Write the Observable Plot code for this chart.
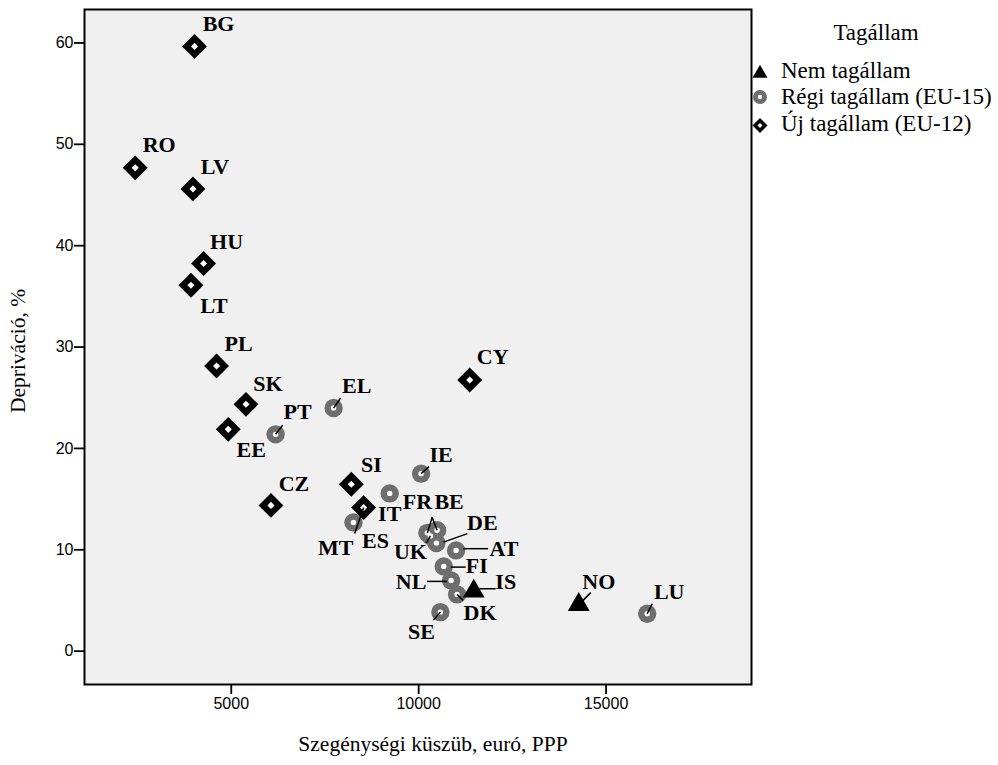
<!DOCTYPE html>
<html><head><meta charset="utf-8">
<script src="https://cdn.jsdelivr.net/npm/d3@7"></script>
<script src="https://cdn.jsdelivr.net/npm/@observablehq/plot@0.6"></script>
<style>
body{margin:0;background:#fff;}
#wrap{position:relative;width:998px;height:765px;overflow:hidden;}
#legend{position:absolute;left:0;top:0;}
</style></head><body><div id="wrap"></div>
<script>
// ---- data ----
const codes = ["BG","RO","LV","HU","LT","PL","SK","EE","CZ","SI","CY","MT",
               "EL","PT","IE","IT","ES","FR","UK","BE","DE","AT","FI","NL","DK","SE","LU",
               "IS","NO"];
const groups = ["Új tagállam (EU-12)","Új tagállam (EU-12)","Új tagállam (EU-12)","Új tagállam (EU-12)",
  "Új tagállam (EU-12)","Új tagállam (EU-12)","Új tagállam (EU-12)","Új tagállam (EU-12)",
  "Új tagállam (EU-12)","Új tagállam (EU-12)","Új tagállam (EU-12)","Új tagállam (EU-12)",
  "Régi tagállam (EU-15)","Régi tagállam (EU-15)","Régi tagállam (EU-15)","Régi tagállam (EU-15)",
  "Régi tagállam (EU-15)","Régi tagállam (EU-15)","Régi tagállam (EU-15)","Régi tagállam (EU-15)",
  "Régi tagállam (EU-15)","Régi tagállam (EU-15)","Régi tagállam (EU-15)","Régi tagállam (EU-15)",
  "Régi tagállam (EU-15)","Régi tagállam (EU-15)","Régi tagállam (EU-15)",
  "Nem tagállam","Nem tagállam"];
const threshold = [4020,2437,3977,4261,3924,4608,5392,4920,6059,8203,11362,8532,
                   7731,6183,10064,9227,8260,10232,10313,10491,10473,10998,10668,10865,11025,10579,16097,
                   11469,14271];
const deprivation = [59.66,47.68,45.6,38.24,36.1,28.13,24.35,21.88,14.38,16.46,26.75,14.16,
                     23.99,21.39,17.51,15.56,12.7,11.67,11.37,11.92,10.66,9.94,8.36,6.98,5.6,3.85,3.69,
                     5.91,4.59];
const xTicks = [5000,10000,15000];
const yTicks = [0,10,20,30,40,50,60];
const groupNames = ["Nem tagállam","Régi tagállam (EU-15)","Új tagállam (EU-12)"];
const legendTitle = "Tagállam";
const xTitle = "Szegénységi küszüb, euró, PPP";
const yTitle = "Depriváció, %";

// ---- layout (pixel offsets of labels and leader lines) ----
const labelOffset = {BG:[24,-22],RO:[24,-23],LV:[22,-22],HU:[23,-22],LT:[23,21],PL:[22,-22],SK:[22,-20],
  EE:[23,21],CZ:[23,-21],SI:[20,-19],CY:[23,-23],MT:[-28,40],EL:[23,-22],PT:[22,-22],IE:[20,-19],
  IT:[0,21],ES:[22,19],FR:[-10,-30.5],UK:[-20,16],BE:[12,-28],DE:[46,-20],AT:[48,-1.5],FI:[33,0],
  NL:[-40,1.5],DK:[23,18.5],SE:[-19,20],LU:[22,-22],IS:[32,-9],NO:[20,-23]};
const leaderOffset = {MT:[0,0,-9,26],FR:[0,0,5,-16],BE:[0,0,-5,-13],DE:[7,-1,31,-9.5],UK:[0,0,-4,7],
  AT:[7,-1.7,32,-1.7],FI:[7,0.7,22,0.7],NL:[-24,1,-4,1],IS:[0,-2.5,22,-2.5],IE:[0,0,8,-7],
  EL:[0,0,7,-10],PT:[0,0,7,-9],SE:[0,0,-7,8],LU:[0,0,5,-10],NO:[0,0,12,-12],DK:[0,0,6,6]};

const W = 998, H = 765;
const mL = 84, mR = 247, mT = 9, mB = 81;
const xDomain = [1084, 18880], yDomain = [-3.29, 63.3];
const kx = (xDomain[1]-xDomain[0])/(W-mL-mR);
const ky = (yDomain[1]-yDomain[0])/(H-mT-mB);

const rows = codes.map((c,i)=>({code:c, group:groups[i], x:threshold[i], y:deprivation[i]}));
const old = rows.filter(d=>d.group===groupNames[1]);
const neu = rows.filter(d=>d.group===groupNames[2]);
const non = rows.filter(d=>d.group===groupNames[0]);
const leaders = rows.filter(d=>leaderOffset[d.code]).map(d=>{
  const o = leaderOffset[d.code];
  return {x1:d.x+o[0]*kx, y1:d.y-o[1]*ky, x2:d.x+o[2]*kx, y2:d.y-o[3]*ky};
});

const serif = "'Liberation Serif','Times New Roman',serif";
const sans = "'Liberation Sans',Arial,sans-serif";

const plot = Plot.plot({
  width: W, height: H,
  marginLeft: mL, marginRight: mR, marginTop: mT, marginBottom: mB,
  style: {background:"#fff", fontFamily: sans, overflow:"visible"},
  x: {domain: xDomain},
  y: {domain: yDomain},
  marks: [
    Plot.frame({fill:"#f0f0f0", stroke:null}),
    Plot.dot(old, {x:"x", y:"y", r:9.2, fill:"#6e6e6e", stroke:null}),
    Plot.dot(old, {x:"x", y:"y", r:2.7, fill:"#fff", stroke:null}),
    Plot.dot(neu, {x:"x", y:"y", symbol:"diamond2", r:11.2, fill:"#000", stroke:null}),
    Plot.dot(neu, {x:"x", y:"y", symbol:"diamond2", r:3.2, fill:"#fff", stroke:null}),
    Plot.dot(non, {x:"x", y:"y", symbol:"triangle", r:8.1, fill:"#000", stroke:null}),
    Plot.link(leaders, {x1:"x1", y1:"y1", x2:"x2", y2:"y2", stroke:"#000", strokeWidth:1.5}),
    Plot.text(rows, {x:d=>d.x+labelOffset[d.code][0]*kx, y:d=>d.y-labelOffset[d.code][1]*ky,
      text:"code", fontSize:22, fontWeight:"bold", fontFamily:serif, fill:"#000"}),
    Plot.frame({stroke:"#000", strokeWidth:2}),
    Plot.axisX({ticks:xTicks, tickFormat:d=>String(d), tickSize:10, tickPadding:3, fontSize:16,
      fontFamily:sans, stroke:"#000", strokeWidth:1.8, label:null, color:"#000"}),
    Plot.axisY({ticks:yTicks, tickFormat:d=>String(d), tickSize:10, tickPadding:1, fontSize:16,
      fontFamily:sans, stroke:"#000", strokeWidth:1.8, label:null}),
    Plot.text([xTitle], {frameAnchor:"bottom", textAnchor:"middle", dx:15, dy:66, fontSize:21.5, fontFamily:serif, fill:"#000"}),
    Plot.text([yTitle], {frameAnchor:"left", textAnchor:"middle", rotate:-90, dx:-66, dy:4, fontSize:21.5, fontFamily:serif, fill:"#000"})
  ]
});
document.getElementById("wrap").appendChild(plot);

// ---- legend ----
const lg = d3.select("#wrap").append("svg").attr("id","legend").attr("width",W).attr("height",H);
lg.append("text").attr("x",876).attr("y",40).attr("text-anchor","middle")
  .style("font-family",serif).style("font-size","23px").text(legendTitle);
const items = [
  {name:groupNames[0], y:73.5, draw:g=>g.append("path").attr("d",d3.symbol(d3.symbolTriangle,97)()).attr("fill","#000")},
  {name:groupNames[1], y:97, draw:g=>{g.append("circle").attr("r",7).attr("fill","#6e6e6e");g.append("circle").attr("r",2.2).attr("fill","#fff");}},
  {name:groupNames[2], y:125.5, draw:g=>{g.append("path").attr("d",d3.symbol(d3.symbolDiamond2,143)()).attr("fill","#000");g.append("path").attr("d",d3.symbol(d3.symbolDiamond2,16)()).attr("fill","#fff");}}
];
const baselines = [78, 104, 131];
items.forEach((it,i)=>{
  const g = lg.append("g").attr("transform",`translate(760,${it.y})`);
  it.draw(g);
  lg.append("text").attr("x",781).attr("y",baselines[i]).style("font-family",serif).style("font-size","23px").text(it.name);
});
</script></body></html>
